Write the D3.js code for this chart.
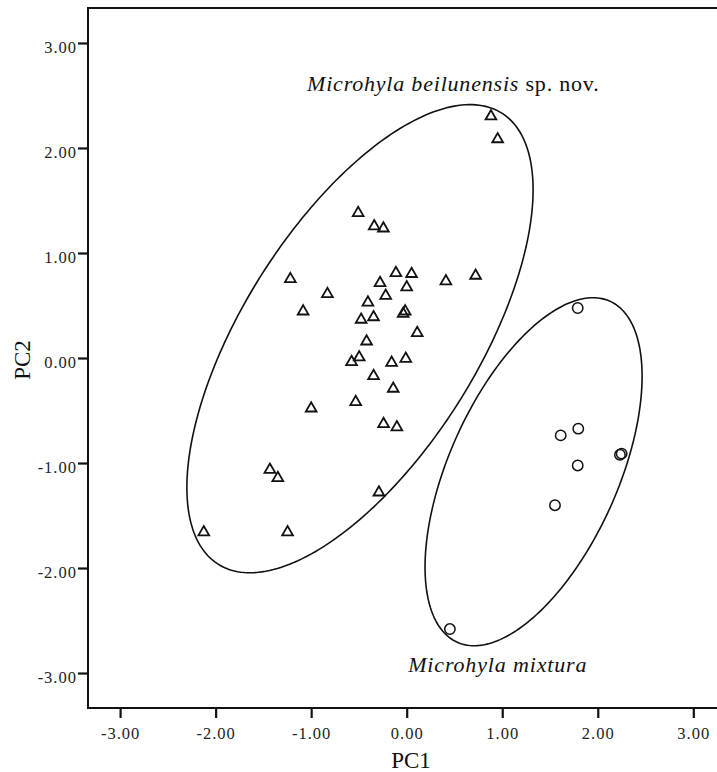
<!DOCTYPE html>
<html>
<head>
<meta charset="utf-8">
<script src="https://cdn.jsdelivr.net/npm/d3@7"></script>
<style>
	body { margin: 0; background: #fff; }
	svg { display: block; font-family: "Liberation Serif", "Times New Roman", serif; }
</style>
</head>
<body>
<svg id="chart" width="717" height="772"></svg>
<script>
// PCA scores
var beilunensisPC1 = [0.882, 0.952, -0.508, -0.340, -0.244, -1.218, -0.113, 0.051, 0.410, 0.721,
	-0.279, -0.830, 0.000, -0.220, -0.406, -1.084, -0.016, -0.037, -0.347, -0.477,
	0.110, -0.420, -0.577, -0.497, -0.158, -0.010, -0.347, -0.141, -1.000, -0.534,
	-0.242, -0.103, -1.432, -1.349, -0.291, -2.124, -1.247];
var beilunensisPC2 = [2.301, 2.084, 1.381, 1.255, 1.234, 0.752, 0.810, 0.801, 0.731, 0.784,
	0.714, 0.610, 0.674, 0.593, 0.529, 0.444, 0.444, 0.422, 0.389, 0.365,
	0.238, 0.158, -0.038, 0.006, -0.045, -0.007, -0.171, -0.292, -0.480, -0.419,
	-0.628, -0.659, -1.064, -1.143, -1.280, -1.659, -1.659];
var mixturaPC1 = [1.790, 1.612, 1.796, 2.250, 2.232, 1.790, 1.552, 0.452];
var mixturaPC2 = [0.476, -0.737, -0.673, -0.911, -0.921, -1.023, -1.402, -2.581];

// group ellipses: centre, half extents along PC1/PC2, correlation
var ellipseNames = ['beilunensis', 'mixtura'];
var ellipseCX = [-0.489, 1.328];
var ellipseCY = [0.184, -1.083];
var ellipseRX = [1.812, 1.136];
var ellipseRY = [2.229, 1.657];
var ellipseRho = [0.636, 0.548];

var xTicks = [-3, -2, -1, 0, 1, 2, 3];
var yTicks = [-3, -2, -1, 0, 1, 2, 3];

(function(){
	var svg = d3.select('#chart');
	var left = 88, top = 8, right = 725.4, bottom = 708;

	var x = d3.scaleLinear().domain([-3.336, 3.336]).range([left, right]);
	var y = d3.scaleLinear().domain([-3.333, 3.333]).range([bottom, top]);
	var fmt = function(d){ return d.toFixed(2); };

	// frame
	svg.append('rect')
		.attr('x', left).attr('y', top)
		.attr('width', right - left).attr('height', bottom - top)
		.attr('fill', 'none').attr('stroke', '#111').attr('stroke-width', 2);

	var xAxis = svg.append('g')
		.attr('transform', 'translate(0,' + bottom + ')')
		.call(d3.axisBottom(x).tickValues(xTicks).tickFormat(fmt).tickSize(10).tickPadding(9));
	var yAxis = svg.append('g')
		.attr('transform', 'translate(' + left + ',0)')
		.call(d3.axisLeft(y).tickValues(yTicks).tickFormat(fmt).tickSize(10).tickPadding(1));

	[xAxis, yAxis].forEach(function(ax){
		ax.select('.domain').remove();
		ax.selectAll('line').attr('stroke', '#111').attr('stroke-width', 2.2);
		ax.selectAll('text')
			.attr('fill', '#222')
			.style('font-family', '"Liberation Serif", serif')
			.style('font-size', '16.5px')
			.style('letter-spacing', '1px');
	});
	yAxis.selectAll('text').attr('dy', '0.6em');

	// ellipses
	var line = d3.line().curve(d3.curveLinearClosed);
	ellipseNames.forEach(function(name, i){
		var pts = d3.range(240).map(function(k){
			var t = k / 240 * 2 * Math.PI;
			var px = ellipseCX[i] + ellipseRX[i] * Math.cos(t);
			var py = ellipseCY[i] + ellipseRY[i] * (ellipseRho[i] * Math.cos(t) + Math.sqrt(1 - ellipseRho[i] * ellipseRho[i]) * Math.sin(t));
			return [x(px), y(py)];
		});
		svg.append('path')
			.attr('class', 'ellipse ' + name)
			.attr('d', line(pts))
			.attr('fill', 'none')
			.attr('stroke', '#111')
			.attr('stroke-width', 1.6);
	});

	// triangles
	var tri = d3.symbol().type(d3.symbolTriangle).size(50);
	svg.append('g').selectAll('path')
		.data(beilunensisPC1)
		.enter().append('path')
		.attr('d', tri)
		.attr('transform', function(d, i){ return 'translate(' + x(d) + ',' + y(beilunensisPC2[i]) + ')'; })
		.attr('fill', 'none')
		.attr('stroke', '#111')
		.attr('stroke-width', 1.8);

	// circles
	svg.append('g').selectAll('circle')
		.data(mixturaPC1)
		.enter().append('circle')
		.attr('cx', function(d){ return x(d); })
		.attr('cy', function(d, i){ return y(mixturaPC2[i]); })
		.attr('r', 5.2)
		.attr('fill', 'none')
		.attr('stroke', '#111')
		.attr('stroke-width', 1.5);

	// labels
	var lab1 = svg.append('text')
		.attr('x', x(-1.043)).attr('y', y(2.546))
		.attr('fill', '#111')
		.style('font-size', '22px')
		.style('letter-spacing', '0.8px');
	lab1.append('tspan').style('font-style', 'italic').text('Microhyla beilunensis');
	lab1.append('tspan').text(' sp. nov.');

	svg.append('text')
		.attr('x', x(0.015)).attr('y', y(-2.988))
		.attr('fill', '#111')
		.style('font-size', '22px')
		.style('letter-spacing', '0.85px')
		.style('font-style', 'italic')
		.text('Microhyla mixtura');

	svg.append('text')
		.attr('x', 411).attr('y', 768)
		.attr('text-anchor', 'middle')
		.attr('fill', '#111')
		.style('font-size', '23px')
		.text('PC1');

	svg.append('text')
		.attr('transform', 'translate(30,360) rotate(-90)')
		.attr('text-anchor', 'middle')
		.attr('fill', '#111')
		.style('font-size', '23px')
		.text('PC2');
})();
</script>
</body>
</html>
